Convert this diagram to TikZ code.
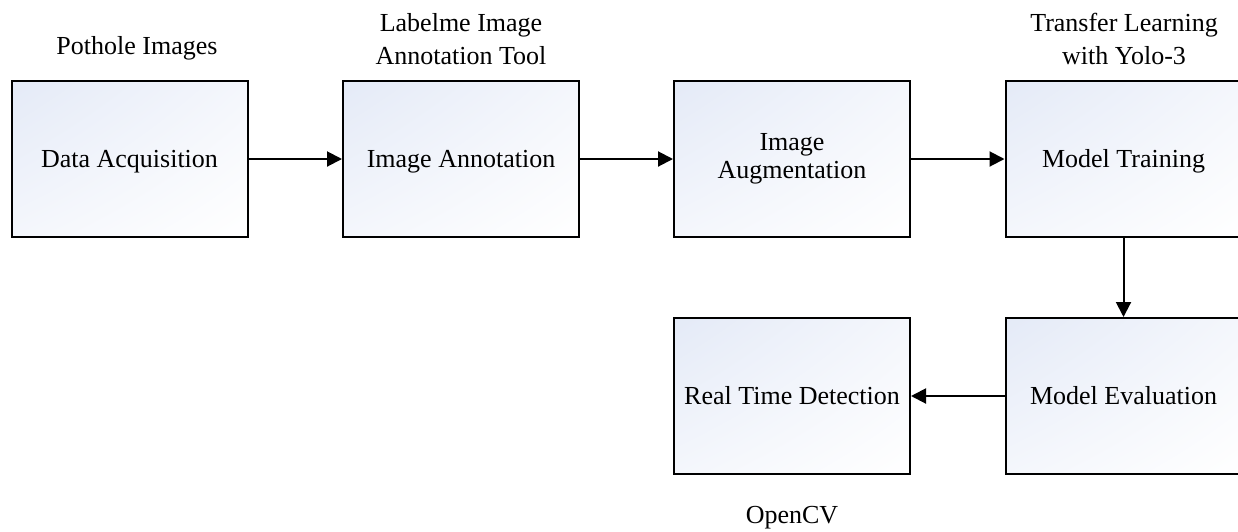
\documentclass[tikz,border=0pt]{standalone}
\usepackage{fontspec}
\setmainfont{Liberation Serif}
\usetikzlibrary{arrows.meta,shadings}
\definecolor{boxtint}{RGB}{228,234,247}
\tikzset{
  stagebox/.style={draw=black, line width=2pt, minimum width=236pt, minimum height=156pt,
    inner sep=0pt, align=center, font=\fontsize{26}{28}\selectfont,
    upper left=boxtint, upper right=boxtint!40!white, lower left=boxtint!40!white, lower right=white},
  oneline/.style={text height=18pt, text depth=2pt},
  toplabel/.style={align=center, inner sep=0pt, font=\fontsize{26}{33}\selectfont},
  flow/.style={line width=2pt, -{Triangle[length=15pt,width=15pt]}}
}
\begin{document}
\begin{tikzpicture}[x=1pt,y=-1pt]
\useasboundingbox (0,0) rectangle (1238,531);
\node[stagebox,oneline] (acq) at (129.5,159) {Data Acquisition};
\node[stagebox,oneline] (ann) at (461,159) {Image Annotation};
\node[stagebox] (aug) at (792,159) {Image\\Augmentation};
\node[stagebox,oneline] (train) at (1123.5,159) {Model Training};
\node[stagebox,oneline] (eval) at (1123.5,396) {Model Evaluation};
\node[stagebox,oneline] (rt) at (792,396) {Real Time Detection};
\node[toplabel] (l1) at (137,48) {Pothole Images};
\node[toplabel] (l2) at (461,39) {Labelme Image\\Annotation Tool};
\node[toplabel] (l3) at (1124,39) {Transfer Learning\\with Yolo-3};
\node[toplabel] (l4) at (792,518) {OpenCV};
\draw[flow] (acq) -- (ann);
\draw[flow] (ann) -- (aug);
\draw[flow] (aug) -- (train);
\draw[flow] (train) -- (eval);
\draw[flow] (eval) -- (rt);
\end{tikzpicture}
\end{document}
